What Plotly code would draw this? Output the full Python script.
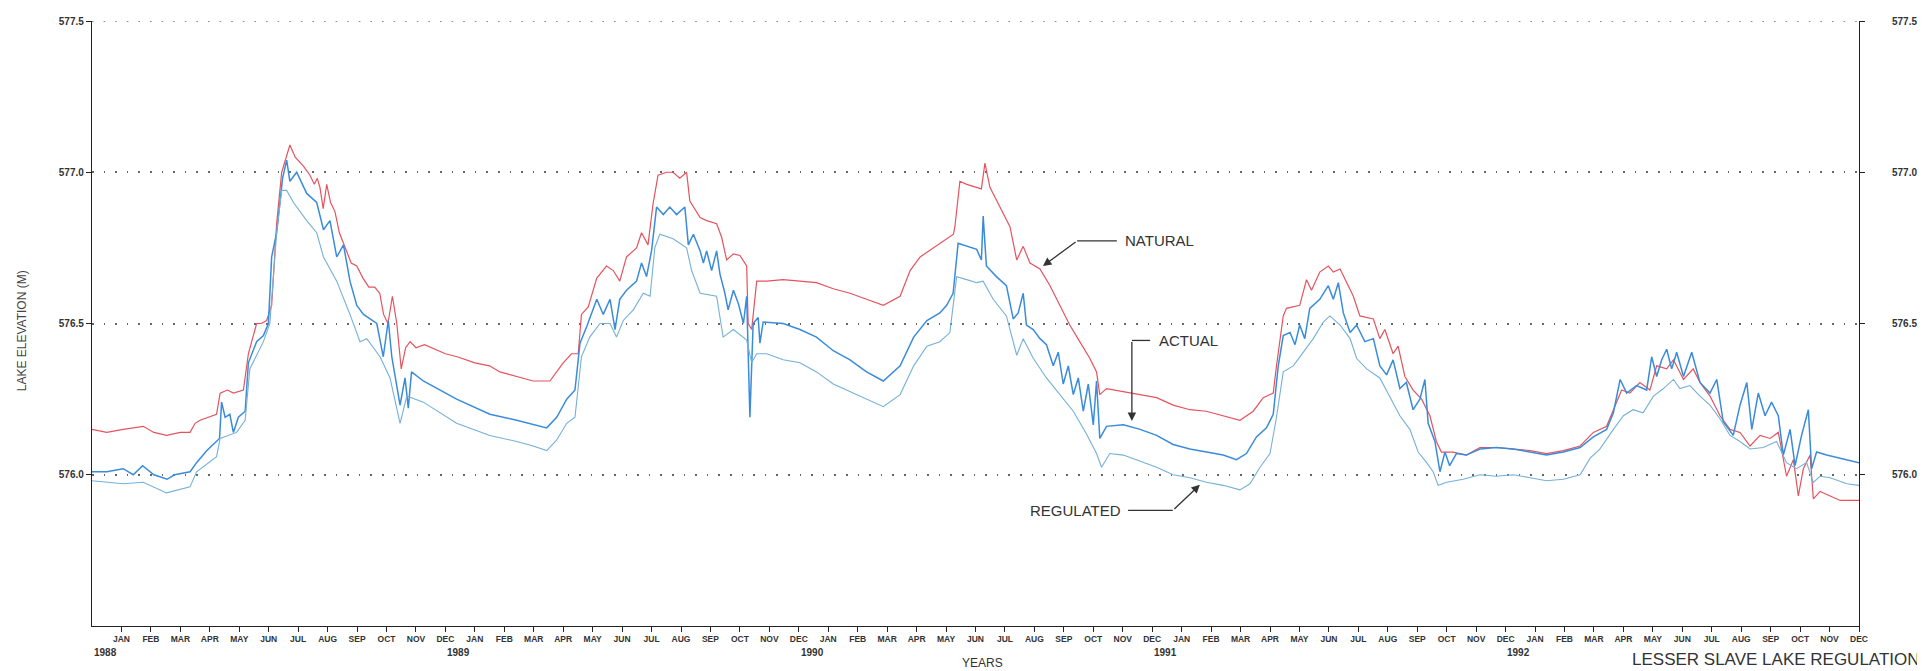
import plotly.graph_objects as go

# x = months since 1 Dec 1987 (tick 1 = JAN 1988 ... tick 60 = DEC 1992); y = lake elevation (m)
nat_m = [0.0, 0.5, 1.06, 1.74, 2.1, 2.53, 3.0, 3.33, 3.5, 3.67, 4.23, 4.35, 4.6, 4.8, 5.14, 5.31, 5.45, 5.59,
         5.75, 5.93, 6.1, 6.2, 6.27, 6.44, 6.6, 6.72, 6.9, 7.18, 7.4, 7.55, 7.65, 7.74, 7.85, 7.97, 8.1, 8.25,
         8.4, 8.65, 8.8, 8.99, 9.2, 9.4, 9.6, 9.77, 9.9, 10.05, 10.2, 10.35, 10.5, 10.65, 10.8, 11.0, 11.29,
         12.0, 12.4, 13.0, 13.5, 13.85, 14.42, 14.98, 15.55, 16.0, 16.28, 16.51, 16.62, 16.85, 17.14, 17.47,
         17.7, 17.92, 18.15, 18.49, 18.66, 18.88, 19.05, 19.22, 19.51, 19.73, 19.96, 20.19, 20.3, 20.65, 20.87,
         21.21, 21.38, 21.55, 21.78, 22.0, 22.23, 22.28, 22.4, 22.57, 22.91, 23.47, 24.04, 24.6, 25.17, 25.74,
         26.3, 26.87, 27.44, 27.78, 28.12, 28.57, 29.0, 29.25, 29.3, 29.47, 29.7, 30.04, 30.2, 30.32, 30.49,
         30.83, 31.17, 31.4, 31.62, 31.85, 32.19, 32.53, 32.87, 33.2, 33.54, 33.88, 34.11, 34.22, 34.45, 35.02,
         35.59, 36.15, 36.71, 37.28, 37.84, 38.41, 38.98, 39.43, 39.77, 40.11, 40.22, 40.45, 40.56, 41.01,
         41.24, 41.41, 41.69, 41.98, 42.15, 42.38, 42.6, 42.83, 43.05, 43.51, 43.73, 43.9, 44.18, 44.35, 44.58,
         44.86, 45.15, 45.43, 45.65, 45.82, 46.22, 46.67, 47.13, 47.69, 48.26, 48.83, 49.39, 49.96, 50.53,
         50.98, 51.43, 51.66, 51.94, 52.22, 52.56, 52.9, 53.13, 53.47, 53.7, 54.04, 54.37, 54.6, 54.94, 55.28,
         55.62, 55.96, 56.3, 56.64, 56.98, 57.26, 57.54, 57.77, 57.94, 58.11, 58.34, 58.45, 58.68, 59.02,
         59.36, 60.0]
nat_v = [576.15, 576.14, 576.15, 576.16, 576.14, 576.13, 576.14, 576.14, 576.17, 576.18, 576.2, 576.27, 576.28,
         576.27, 576.28, 576.40, 576.45, 576.50, 576.50, 576.51, 576.56, 576.70, 576.83, 577.00, 577.05, 577.09,
         577.05, 577.02, 576.99, 576.96, 576.98, 576.95, 576.88, 576.96, 576.90, 576.87, 576.80, 576.74, 576.70,
         576.69, 576.65, 576.62, 576.62, 576.60, 576.53, 576.50, 576.59, 576.50, 576.35, 576.42, 576.44, 576.42,
         576.43, 576.40, 576.39, 576.37, 576.36, 576.34, 576.325, 576.31, 576.31, 576.37, 576.40, 576.40,
         576.53, 576.555, 576.65, 576.69, 576.675, 576.64, 576.72, 576.75, 576.80, 576.76, 576.895, 576.99,
         577.0, 577.0, 576.98, 577.0, 576.905, 576.85, 576.84, 576.83, 576.785, 576.71, 576.73, 576.725,
         576.69, 576.50, 576.48, 576.64, 576.64, 576.645, 576.64, 576.635, 576.615, 576.60, 576.58, 576.56,
         576.59, 576.675, 576.72, 576.75, 576.78, 576.795, 576.82, 576.97, 576.96, 576.95, 576.945, 577.03,
         576.95, 576.885, 576.82, 576.71, 576.755, 576.70, 576.68, 576.625, 576.56, 576.495, 576.44, 576.385,
         576.34, 576.265, 576.285, 576.275, 576.265, 576.255, 576.23, 576.215, 576.21, 576.195, 576.18, 576.21,
         576.255, 576.27, 576.36, 576.525, 576.55, 576.56, 576.645, 576.61, 576.67, 576.69, 576.67, 576.68,
         576.635, 576.59, 576.525, 576.515, 576.45, 576.48, 576.40, 576.425, 576.325, 576.28, 576.25, 576.195,
         576.11, 576.075, 576.075, 576.065, 576.09, 576.09, 576.085, 576.08, 576.07, 576.08, 576.095, 576.14,
         576.16, 576.215, 576.28, 576.27, 576.305, 576.28, 576.36, 576.35, 576.38, 576.315, 576.35, 576.305,
         576.26, 576.195, 576.15, 576.14, 576.095, 576.13, 576.12, 576.14, 575.995, 576.05, 575.93, 576.02,
         576.065, 575.92, 575.945, 575.93, 575.915, 575.915]

act_m = [0.0, 0.5, 1.06, 1.4, 1.72, 2.1, 2.55, 2.8, 3.33, 3.55, 3.9, 4.23, 4.33, 4.40, 4.52, 4.68, 4.80, 4.97,
         5.20, 5.31, 5.59, 5.82, 5.99, 6.10, 6.27, 6.47, 6.61, 6.72, 6.95, 7.29, 7.63, 7.86, 8.08, 8.31, 8.54,
         8.76, 8.99, 9.22, 9.38, 9.67, 9.89, 10.06, 10.18, 10.46, 10.63, 10.74, 10.85, 11.25, 12.38, 13.51,
         14.42, 14.98, 15.44, 15.78, 16.12, 16.40, 16.57, 16.80, 17.14, 17.36, 17.59, 17.76, 17.92, 18.15,
         18.49, 18.66, 18.83, 19.00, 19.17, 19.40, 19.62, 19.85, 20.13, 20.25, 20.42, 20.65, 20.76, 20.87,
         21.04, 21.21, 21.32, 21.49, 21.60, 21.78, 21.95, 22.12, 22.23, 22.34, 22.45, 22.62, 22.68, 22.79,
         23.47, 24.04, 24.60, 25.17, 25.74, 26.30, 26.87, 27.44, 27.90, 28.35, 28.79, 29.02, 29.24, 29.41,
         29.70, 30.04, 30.20, 30.26, 30.37, 30.71, 31.05, 31.28, 31.45, 31.62, 31.73, 31.96, 32.19, 32.41,
         32.64, 32.81, 32.98, 33.15, 33.32, 33.49, 33.66, 33.83, 34.00, 34.11, 34.22, 34.45, 35.02, 35.59,
         36.15, 36.71, 37.28, 37.84, 38.41, 38.86, 39.20, 39.54, 39.88, 40.11, 40.28, 40.45, 40.68, 40.85,
         41.01, 41.18, 41.35, 41.69, 41.98, 42.15, 42.32, 42.49, 42.72, 42.94, 43.22, 43.51, 43.73, 43.96,
         44.18, 44.41, 44.63, 44.86, 45.09, 45.26, 45.37, 45.60, 45.77, 45.94, 46.10, 46.33, 46.67, 47.13,
         47.69, 48.26, 48.83, 49.39, 49.96, 50.53, 50.98, 51.43, 51.66, 51.89, 52.11, 52.45, 52.79, 52.96,
         53.13, 53.30, 53.47, 53.64, 53.81, 54.04, 54.32, 54.60, 54.94, 55.17, 55.39, 55.73, 55.96, 56.19,
         56.36, 56.58, 56.81, 57.03, 57.26, 57.43, 57.66, 57.83, 58.05, 58.28, 58.39, 58.56, 58.90, 59.36, 60.0]
act_v = [576.01, 576.01, 576.02, 576.00, 576.03, 576.00, 575.985, 576.00, 576.01, 576.04, 576.08, 576.11, 576.12,
         576.24, 576.19, 576.20, 576.14, 576.19, 576.21, 576.37, 576.44, 576.46, 576.50, 576.72, 576.80, 576.98,
         577.04, 576.97, 577.00, 576.93, 576.90, 576.81, 576.84, 576.72, 576.76, 576.64, 576.56, 576.53, 576.52,
         576.50, 576.39, 576.51, 576.39, 576.23, 576.32, 576.22, 576.34, 576.31, 576.25, 576.20, 576.18,
         576.165, 576.155, 576.19, 576.25, 576.28, 576.435, 576.49, 576.58, 576.53, 576.58, 576.48, 576.58,
         576.61, 576.64, 576.70, 576.655, 576.74, 576.885, 576.86, 576.885, 576.86, 576.885, 576.76, 576.795,
         576.74, 576.70, 576.74, 576.675, 576.74, 576.665, 576.60, 576.545, 576.61, 576.565, 576.50, 576.59,
         576.19, 576.50, 576.52, 576.435, 576.505, 576.50, 576.48, 576.455, 576.41, 576.38, 576.34, 576.31,
         576.36, 576.455, 576.51, 576.535, 576.56, 576.60, 576.765, 576.755, 576.745, 576.71, 576.855, 576.69,
         576.655, 576.625, 576.515, 576.535, 576.60, 576.495, 576.48, 576.45, 576.43, 576.36, 576.405, 576.30,
         576.36, 576.265, 576.32, 576.21, 576.30, 576.165, 576.31, 576.12, 576.16, 576.165, 576.15, 576.13,
         576.10, 576.085, 576.075, 576.065, 576.05, 576.07, 576.125, 576.155, 576.20, 576.36, 576.46, 576.47,
         576.43, 576.495, 576.45, 576.55, 576.58, 576.625, 576.58, 576.635, 576.535, 576.47, 576.495, 576.44,
         576.45, 576.36, 576.33, 576.38, 576.285, 576.305, 576.215, 576.25, 576.315, 576.17, 576.11, 576.01,
         576.075, 576.03, 576.07, 576.065, 576.085, 576.09, 576.085, 576.075, 576.065, 576.075, 576.09, 576.125,
         576.15, 576.205, 576.315, 576.27, 576.295, 576.28, 576.39, 576.325, 576.38, 576.415, 576.35, 576.405,
         576.325, 576.405, 576.305, 576.27, 576.315, 576.175, 576.13, 576.23, 576.305, 576.15, 576.27, 576.195,
         576.24, 576.195, 576.065, 576.15, 576.03, 576.13, 576.215, 576.02, 576.075, 576.065, 576.055, 576.04]

reg_m = [0.0, 1.06, 1.74, 2.53, 3.33, 3.55, 4.23, 4.35, 4.91, 5.2, 5.36, 5.82, 6.04, 6.27, 6.44, 6.61, 6.84, 7.29,
         7.63, 7.86, 8.31, 8.76, 9.10, 9.33, 9.78, 10.12, 10.46, 10.69, 11.25, 12.38, 13.51, 14.42, 14.98, 15.44,
         15.78, 16.12, 16.40, 16.62, 16.90, 17.25, 17.59, 17.81, 18.04, 18.38, 18.72, 18.95, 19.11, 19.28, 19.73,
         20.19, 20.36, 20.65, 21.21, 21.43, 21.78, 22.23, 22.40, 22.57, 22.91, 23.47, 24.04, 24.60, 25.17, 25.74,
         26.30, 26.87, 27.44, 27.90, 28.35, 28.79, 29.13, 29.36, 29.70, 30.04, 30.26, 30.60, 31.05, 31.40, 31.62,
         31.96, 32.41, 32.87, 33.32, 33.77, 34.11, 34.28, 34.56, 35.02, 35.59, 36.15, 36.71, 37.28, 37.84, 38.41,
         38.98, 39.32, 39.66, 40.00, 40.22, 40.45, 40.79, 41.13, 41.47, 41.81, 42.03, 42.38, 42.72, 42.94, 43.28,
         43.73, 44.07, 44.41, 44.75, 45.03, 45.32, 45.54, 45.71, 46.00, 46.56, 47.13, 47.69, 48.26, 48.83, 49.39,
         49.96, 50.53, 50.87, 51.20, 51.66, 52.00, 52.33, 52.67, 53.02, 53.36, 53.70, 53.92, 54.26, 54.60, 54.94,
         55.28, 55.62, 55.96, 56.30, 56.75, 57.20, 57.54, 57.88, 58.22, 58.45, 58.68, 59.02, 59.59, 60.0]
reg_v = [575.98, 575.97, 575.975, 575.94, 575.96, 576.01, 576.06, 576.12, 576.14, 576.18, 576.35, 576.44, 576.50,
         576.80, 576.94, 576.94, 576.90, 576.84, 576.80, 576.72, 576.64, 576.53, 576.44, 576.45, 576.39, 576.32,
         576.17, 576.26, 576.24, 576.17, 576.13, 576.11, 576.095, 576.08, 576.115, 576.17, 576.19, 576.39,
         576.455, 576.50, 576.50, 576.455, 576.51, 576.545, 576.60, 576.59, 576.75, 576.795, 576.78, 576.75,
         576.675, 576.60, 576.59, 576.455, 576.48, 576.445, 576.37, 576.40, 576.40, 576.38, 576.37, 576.34,
         576.30, 576.275, 576.25, 576.225, 576.265, 576.36, 576.425, 576.44, 576.47, 576.655, 576.645, 576.635,
         576.64, 576.58, 576.525, 576.395, 576.45, 576.385, 576.32, 576.265, 576.21, 576.135, 576.07, 576.025,
         576.07, 576.065, 576.045, 576.025, 576.00, 575.99, 575.975, 575.965, 575.95, 575.97, 576.025, 576.07,
         576.19, 576.34, 576.36, 576.405, 576.45, 576.505, 576.525, 576.495, 576.45, 576.385, 576.35, 576.32,
         576.26, 576.195, 576.15, 576.075, 576.04, 576.01, 575.965, 575.975, 575.985, 576.00, 575.995, 576.00,
         575.99, 575.98, 575.985, 576.00, 576.055, 576.085, 576.15, 576.195, 576.215, 576.205, 576.26, 576.285,
         576.315, 576.285, 576.295, 576.26, 576.23, 576.185, 576.13, 576.11, 576.085, 576.09, 576.11, 576.04,
         576.02, 576.04, 575.975, 575.995, 575.99, 575.97, 575.965]

month_names = ["JAN", "FEB", "MAR", "APR", "MAY", "JUN", "JUL", "AUG", "SEP", "OCT", "NOV", "DEC"]
years = ["1988", "1989", "1990", "1991", "1992"]
y_ticks = [576.0, 576.5, 577.0, 577.5]
y_tick_text = ["576.0", "576.5", "577.0", "577.5"]

tick_pos = list(range(1, 61))
tick_text = month_names * len(years)

FONT = "Liberation Sans, Arial, sans-serif"
GRID_DASH = "1.6px,10px"
TICK_FONT = dict(family=FONT, size=10, color="#333", weight="bold")

fig = go.Figure()
fig.add_trace(go.Scatter(x=reg_m, y=reg_v, mode="lines", name="REGULATED", yaxis="y2",
                         line=dict(color="#74b0d8", width=1.1)))
fig.add_trace(go.Scatter(x=nat_m, y=nat_v, mode="lines", name="NATURAL",
                         line=dict(color="#e4535e", width=1.2)))
fig.add_trace(go.Scatter(x=act_m, y=act_v, mode="lines", name="ACTUAL",
                         line=dict(color="#3a8cdb", width=1.5)))

axis_common = dict(range=[575.5, 577.5], tickvals=y_ticks, ticktext=y_tick_text,
                   showline=True, linecolor="#222", linewidth=1.3, ticks="outside", ticklen=5,
                   tickcolor="#222", zeroline=False, tickfont=TICK_FONT)

# the page body adds an 8px offset, so the figure is 8px smaller than the window
fig.update_layout(
    width=1917, height=663, autosize=False,
    margin=dict(l=84, r=66, t=7, b=45),
    paper_bgcolor="white", plot_bgcolor="white",
    showlegend=False,
    font=dict(family=FONT, color="#222"),
    xaxis=dict(range=[0, 60], tickvals=tick_pos, ticktext=tick_text, tickangle=0,
               showline=True, linecolor="#222", linewidth=1.3, ticks="outside", ticklen=5,
               tickcolor="#222", showgrid=False, zeroline=False,
               tickfont=dict(family=FONT, size=8.5, color="#333", weight="bold")),
    yaxis=dict(**axis_common, showgrid=True, gridcolor="#666", gridwidth=1.6,
               griddash=GRID_DASH),
    yaxis2=dict(**axis_common, overlaying="y", side="right", showgrid=False,
                showticklabels=False),
)

# right-hand tick labels, set further out from the axis as in the original
for val, txt in zip(y_ticks, y_tick_text):
    fig.add_annotation(x=1.026, y=val, xref="paper", yref="y", text=txt, showarrow=False,
                       xanchor="center", yanchor="middle", font=TICK_FONT)

# dotted grid line at the top value (edge of the range)
fig.add_shape(type="line", xref="paper", yref="y", x0=0, x1=1, y0=577.5, y1=577.5,
              line=dict(color="#666", width=1.6, dash=GRID_DASH))

# year labels under the month ticks
for i, yr in enumerate(years):
    fig.add_annotation(x=12 * i + 0.45, y=0, xref="x", yref="paper", text=yr, showarrow=False,
                       yanchor="top", yshift=-19,
                       font=dict(family=FONT, size=10, color="#333", weight="bold"))

fig.add_annotation(x=0.5037, y=0, xref="paper", yref="paper", text="YEARS", showarrow=False,
                   yanchor="middle", yshift=-37, font=dict(family=FONT, size=12, color="#333"))
fig.add_annotation(x=1.0357, y=0, xref="paper", yref="paper", text="LESSER SLAVE LAKE REGULATION",
                   showarrow=False, xanchor="right", yanchor="middle", yshift=-33,
                   font=dict(family=FONT, size=17, color="#333"))
fig.add_annotation(x=-0.045, y=0.488, xref="paper", yref="paper", text="LAKE ELEVATION (M)",
                   showarrow=False, textangle=-90, font=dict(family=FONT, size=12, color="#444"))

# series call-outs
lab_font = dict(family=FONT, size=15, color="#333")
arrow_kw = dict(showarrow=True, arrowhead=2, arrowsize=1.3, arrowwidth=1.3, arrowcolor="#333",
                axref="x", ayref="y", xref="x", yref="y", text="")
fig.add_annotation(x=32.29, y=576.69, ax=33.45, ay=576.773, **arrow_kw)
fig.add_annotation(x=35.31, y=576.178, ax=35.31, ay=576.444, **arrow_kw)
fig.add_annotation(x=37.62, y=575.967, ax=36.7, ay=575.882, **arrow_kw)
for x0, x1, yv in [(33.45, 34.8, 576.773), (35.31, 35.93, 576.444), (35.18, 36.7, 575.882)]:
    fig.add_shape(type="line", x0=x0, x1=x1, y0=yv, y1=yv, xref="x", yref="y",
                  line=dict(color="#333", width=1.3))
fig.add_annotation(x=35.0, y=576.773, xref="x", yref="y", text="NATURAL", showarrow=False,
                   xanchor="left", font=lab_font)
fig.add_annotation(x=36.16, y=576.444, xref="x", yref="y", text="ACTUAL", showarrow=False,
                   xanchor="left", font=lab_font)
fig.add_annotation(x=35.0, y=575.882, xref="x", yref="y", text="REGULATED", showarrow=False,
                   xanchor="right", font=lab_font)

fig.write_html("out.html")
